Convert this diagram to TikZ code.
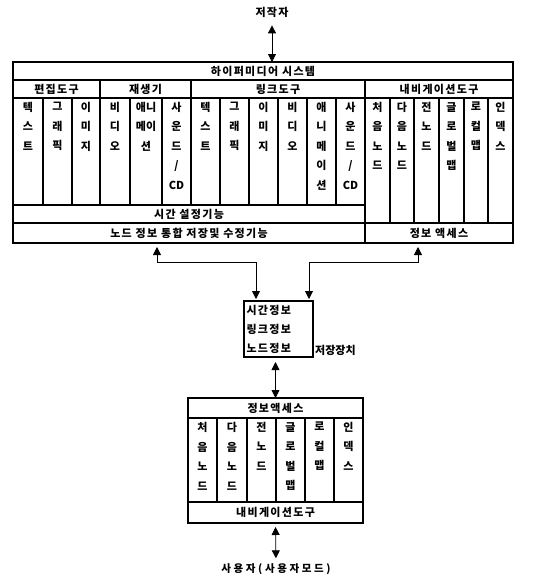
\documentclass[tikz,border=0pt]{standalone}
\usepackage{fontspec}
\newfontfamily\kr{Noto Sans CJK KR}
\newfontfamily\krsp{Noto Sans CJK KR}[LetterSpace=12]
\newfontfamily\krwide{Noto Sans CJK KR}[LetterSpace=25]
\usetikzlibrary{arrows.meta}
\tikzset{
  fgbox/.style  ={draw=black,line width=1.2pt,inner sep=0pt,outer sep=0pt},
  clab/.style   ={inner sep=0pt,align=center,font=\kr\bfseries\fontsize{11}{19.5}\selectfont},
  rlab/.style   ={inner sep=0pt,font=\krsp\bfseries\fontsize{11}{12}\selectfont},
  ulab/.style   ={inner sep=0pt,font=\krwide\bfseries\fontsize{10.5}{12}\selectfont},
  fgline/.style ={line width=0.8pt},
  dblarr/.style ={fgline,{Triangle[length=8pt,width=8pt]}-{Triangle[length=8pt,width=8pt]}},
}
\newcommand{\rowbox}[6]{%
  \node[fgbox,rlab,minimum width={#4-#2},minimum height={#5-#3}] (#1) at ({(#2+#4)/2},{(#3+#5)/2}) {#6};}
\newcommand{\colbox}[6]{%
  \node[fgbox,minimum width={#4-#2},minimum height={#5-#3}] (#1) at ({(#2+#4)/2},{(#3+#5)/2}) {};
  \node[clab,anchor=north] (#1t) at ([yshift=-4pt]#1.north) {#6};}

\begin{document}
\begin{tikzpicture}[x=1pt,y=-1pt]
  \useasboundingbox (0,0) rectangle (545,576);
  \node[rlab] (author) at (272,12) {저작자};
  \rowbox{hyper}{13}{62}{513}{80}{하이퍼미디어 시스템}
  \rowbox{edit}{13}{80}{100}{98}{편집도구}
  \rowbox{play}{100}{80}{191}{98}{재생기}
  \rowbox{link}{191}{80}{365}{98}{링크도구}
  \rowbox{navi}{365}{80}{513}{98}{내비게이션도구}
  \colbox{ea}{13}{98}{43}{205}{텍\\스\\트}
  \colbox{eb}{43}{98}{72}{205}{그\\래\\픽}
  \colbox{ec}{72}{98}{100}{205}{이\\미\\지}
  \colbox{pa}{100}{98}{130}{205}{비\\디\\오}
  \colbox{pb}{130}{98}{162}{205}{애니\\메이\\션}
  \colbox{pc}{162}{98}{191}{205}{사\\운\\드\\/\\CD}
  \colbox{la}{191}{98}{220}{205}{텍\\스\\트}
  \colbox{lb}{220}{98}{249}{205}{그\\래\\픽}
  \colbox{lc}{249}{98}{278}{205}{이\\미\\지}
  \colbox{ld}{278}{98}{307}{205}{비\\디\\오}
  \colbox{le}{307}{98}{336}{205}{애\\니\\메\\이\\션}
  \colbox{lf}{336}{98}{365}{205}{사\\운\\드\\/\\CD}
  \colbox{na}{365}{98}{390}{223}{처\\음\\노\\드}
  \colbox{nb}{390}{98}{414}{223}{다\\음\\노\\드}
  \colbox{nc}{414}{98}{439}{223}{전\\노\\드}
  \colbox{nd}{439}{98}{464}{223}{글\\로\\벌\\맵}
  \colbox{ne}{464}{98}{488}{223}{로\\컬\\맵}
  \colbox{nf}{488}{98}{513}{223}{인\\덱\\스}
  \rowbox{timeset}{13}{205}{365}{223}{시간 설정기능}
  \rowbox{nodeinfo}{13}{223}{365}{243}{노드 정보 통합 저장및 수정기능}
  \rowbox{access}{365}{223}{513}{243}{정보 액세스}
  \node[fgbox,rlab,minimum width=69,minimum height=56,text width=64pt,align=left,
        font=\krsp\bfseries\fontsize{11}{19}\selectfont] (store) at (278.5,329) {시간정보\\링크정보\\노드정보};
  \node[clab,anchor=west] (storelab) at (315,350) {저장장치};
  \rowbox{accessb}{188}{398}{363}{418}{정보액세스}
  \colbox{ma}{188}{418}{217}{502}{처\\음\\노\\드}
  \colbox{mb}{217}{418}{247}{502}{다\\음\\노\\드}
  \colbox{mc}{247}{418}{276}{502}{전\\노\\드}
  \colbox{md}{276}{418}{305}{502}{글\\로\\벌\\맵}
  \colbox{me}{305}{418}{334}{502}{로\\컬\\맵}
  \colbox{mf}{334}{418}{363}{502}{인\\덱\\스}
  \rowbox{navib}{188}{502}{363}{523}{내비게이션도구}
  \node[ulab] (user) at (276,569) {사용자(사용자모드)};
  \coordinate (kneeL) at (157,262);
  \coordinate (kneeR) at (418,262);
  \draw[dblarr,shorten <=8pt] (author.south) -- (author.south |- hyper.north);
  \draw[dblarr,shorten <=2pt,shorten >=4pt] ([xshift=12pt]store.north west) |- (kneeL) -- (kneeL |- nodeinfo.south);
  \draw[dblarr,shorten <=2pt,shorten >=4pt] ([xshift=-4pt]store.north east) |- (kneeR) -- (kneeR |- access.south);
  \draw[dblarr,shorten <=5pt] (accessb.north |- store.south) -- (accessb.north);
  \draw[dblarr,shorten <=4pt,shorten >=5pt] (navib.south) -- (user.north);
\end{tikzpicture}
\end{document}
